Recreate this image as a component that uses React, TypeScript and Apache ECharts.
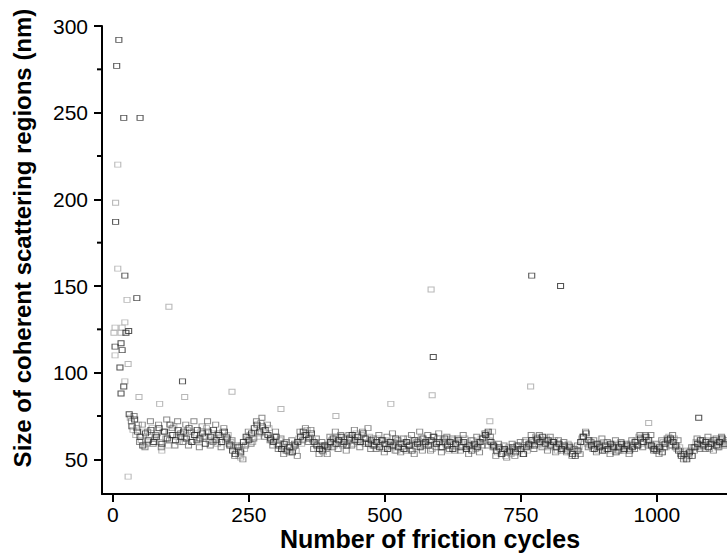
import React, { useEffect, useRef } from "react";
import * as echarts from "echarts";

// Regular sampling of the dense band: three interleaved measurement sets, every 5 cycles
const darkStart = 30;
const lightStart = 32;
const midStart = 34;
const step = 5;

const darkValues: number[] = [
  76, 69, 73, 66, 63, 58, 65, 61, 67, 60,
  63, 68, 59, 66, 62, 70, 64, 61, 67, 63,
  66, 62, 68, 60, 64, 67, 62, 65, 59, 66,
  63, 67, 61, 64, 60, 66, 62, 58, 55, 53,
  57, 54, 60, 63, 61, 65, 68, 70, 66, 69,
  67, 64, 62, 60, 63, 58, 56, 59, 55, 57,
  54, 58, 60, 63, 66, 64, 62, 65, 60, 58,
  56, 55, 58, 57, 60, 62, 59, 61, 63, 60,
  58, 62, 64, 61, 63, 60, 65, 62, 59, 61,
  58, 60, 57, 61, 59, 56, 60, 58, 62, 57,
  59, 56, 60, 58, 55, 61, 59, 57, 62, 60,
  58, 61, 63, 59, 60, 57, 62, 58, 60, 56,
  59, 61, 57, 60, 56, 58, 55, 59, 57, 60,
  62, 64, 66, 60, 58, 55, 57, 53, 56, 54,
  55, 57, 54, 58, 56, 53, 57, 59, 61, 58,
  62, 60, 63, 59, 61, 58, 60, 57, 59, 56,
  58, 55, 57, 53, 52, 55, 60, 63, 65, 61,
  58, 56, 59, 57, 55, 58, 56, 59, 57, 54,
  57, 59, 56, 58, 55, 57, 60, 58, 62, 60,
  63, 61, 58, 56, 55, 57, 54, 59, 61, 62,
  60, 58, 55, 52, 53, 50, 54, 52, 57, 59,
  61, 58, 60, 57, 59, 61, 58, 60, 62, 59,
];

const lightValues: number[] = [
  74, 67, 64, 70, 61, 66, 59, 63, 68, 62,
  65, 60, 66, 62, 58, 64, 69, 63, 60, 65,
  62, 67, 63, 60, 65, 61, 66, 63, 68, 61,
  65, 62, 59, 63, 66, 61, 64, 60, 57, 55,
  52, 58, 56, 62, 64, 60, 66, 63, 71, 67,
  65, 68, 61, 63, 59, 61, 57, 55, 58, 54,
  57, 55, 62, 59, 64, 67, 63, 61, 59, 56,
  58, 54, 56, 59, 61, 58, 63, 60, 58, 62,
  60, 63, 59, 65, 61, 64, 62, 60, 63, 58,
  60, 62, 58, 56, 61, 59, 57, 60, 55, 59,
  57, 60, 62, 56, 59, 57, 61, 63, 58, 61,
  60, 56, 59, 62, 57, 61, 59, 55, 58, 61,
  57, 60, 58, 62, 59, 57, 61, 56, 58, 62,
  60, 63, 61, 59, 57, 54, 56, 55, 52, 57,
  53, 56, 58, 55, 57, 60, 55, 58, 60, 63,
  59, 61, 58, 62, 57, 59, 61, 55, 58, 57,
  56, 59, 54, 56, 55, 57, 62, 60, 59, 58,
  56, 59, 55, 58, 60, 56, 58, 55, 57, 59,
  55, 58, 57, 56, 59, 58, 61, 63, 59, 62,
  60, 59, 57, 55, 58, 56, 60, 57, 63, 58,
  62, 56, 57, 54, 51, 53, 55, 57, 60, 58,
  57, 59, 61, 56, 60, 58, 57, 61, 59, 60,
];

const midValues: number[] = [
  72, 75, 68, 60, 70, 57, 66, 72, 59, 64,
  70, 57, 66, 73, 61, 68, 58, 72, 65, 60,
  70, 58, 66, 72, 61, 57, 69, 63, 72, 58,
  60, 70, 65, 57, 68, 63, 59, 61, 52, 58,
  55, 50, 58, 66, 59, 62, 72, 65, 74, 63,
  70, 61, 58, 66, 56, 62, 53, 60, 54, 61,
  59, 52, 66, 61, 68, 60, 67, 56, 62, 53,
  60, 58, 53, 63, 57, 66, 56, 64, 59, 55,
  64, 58, 67, 60, 57, 66, 59, 68, 56, 62,
  56, 64, 61, 54, 63, 58, 65, 55, 61, 54,
  62, 55, 58, 64, 53, 60, 66, 55, 59, 64,
  55, 63, 57, 65, 54, 60, 63, 56, 62, 55,
  62, 55, 64, 57, 53, 61, 58, 63, 54, 58,
  65, 58, 63, 57, 52, 59, 53, 58, 51, 55,
  59, 52, 56, 60, 53, 61, 58, 64, 56, 61,
  64, 57, 61, 55, 63, 60, 54, 61, 55, 60,
  54, 58, 52, 56, 58, 53, 63, 66, 57, 60,
  61, 54, 58, 62, 55, 60, 53, 58, 61, 55,
  60, 55, 59, 53, 61, 56, 58, 64, 57, 64,
  58, 64, 55, 59, 53, 61, 57, 62, 58, 64,
  57, 61, 53, 50, 55, 52, 57, 55, 62, 56,
  61, 56, 63, 59, 55, 62, 57, 63, 58, 61,
];

// Early scattered points and outliers: [cycle, size]
const darkExtra: number[][] = [
  [11, 292], [7, 277], [20, 247], [50, 247], [5, 187], [22, 156], [44, 143],
  [4, 115], [15, 117], [29, 124], [20, 92], [15, 88], [13, 103], [17, 113],
  [24, 123], [128, 95], [589, 109], [770, 156], [823, 150], [1077, 74],
];
const lightExtra: number[][] = [
  [9, 220], [5, 198], [9, 160], [26, 142], [103, 138], [4, 126], [22, 129],
  [17, 126], [2, 123], [15, 123], [28, 105], [22, 95], [48, 86], [132, 86],
  [86, 82], [219, 89], [28, 40], [90, 55], [235, 51], [585, 148], [587, 87],
  [768, 92], [511, 82], [309, 79], [410, 75], [693, 72], [985, 71], [686, 65],
  [698, 66], [4, 110],
];

const xTicks = [0, 250, 500, 750, 1000];
const yMajor = [50, 100, 150, 200, 250, 300];
const yMinor = [75, 125, 175, 225, 275];

const xTitle = "Number of friction cycles";
const yTitle = "Size of coherent scattering regions (nm)";

const FONT = "'Liberation Sans', Arial, Helvetica, sans-serif";

const X_MIN = -20;
const X_MAX = 1129;
const Y_MIN = 30;
const Y_MAX = 300;

export default function App() {
  const ref = useRef<HTMLDivElement>(null);

  useEffect(() => {
    document.body.style.margin = "0";
    if (!ref.current) return;
    const chart = echarts.init(ref.current, undefined, { renderer: "svg" });

    const darkData = darkValues.map((v, i) => [darkStart + i * step, v]).concat(darkExtra);
    const lightData = lightValues.map((v, i) => [lightStart + i * step, v]).concat(lightExtra);
    const midData = midValues.map((v, i) => [midStart + i * step, v]);

    const axisLineStyle = { color: "#000", width: 2 };
    const fmt = (v: number) => String(v);

    const marker = (color: string) => ({
      type: "scatter",
      symbol: "rect",
      symbolSize: [6, 5],
      itemStyle: { color: "rgba(255,255,255,0)", borderColor: color, borderWidth: 1 },
    });

    const titles = [
      {
        id: "xTitle",
        type: "text",
        x: 430,
        y: 539,
        style: {
          text: xTitle,
          font: `bold 25px ${FONT}`,
          fill: "#000",
          align: "center",
          verticalAlign: "middle",
        },
      },
      {
        id: "yTitle",
        type: "text",
        x: 22,
        y: 238,
        rotation: Math.PI / 2,
        style: {
          text: yTitle,
          font: `bold 24px ${FONT}`,
          fill: "#000",
          align: "center",
          verticalAlign: "middle",
        },
      },
    ];

    chart.setOption({
      animation: false,
      backgroundColor: "#fff",
      grid: { left: 102, right: 0, top: 26, bottom: 64, containLabel: false },
      xAxis: {
        type: "value",
        min: X_MIN,
        max: X_MAX,
        axisLine: { show: true, onZero: false, lineStyle: axisLineStyle },
        axisTick: { show: true, length: 8, lineStyle: axisLineStyle, customValues: xTicks },
        axisLabel: {
          customValues: xTicks,
          formatter: fmt,
          fontSize: 21,
          fontFamily: FONT,
          color: "#000",
          margin: 10,
        },
        splitLine: { show: false },
      },
      yAxis: {
        type: "value",
        min: Y_MIN,
        max: Y_MAX,
        axisLine: { show: true, onZero: false, lineStyle: axisLineStyle },
        axisTick: { show: true, length: 8, lineStyle: axisLineStyle, customValues: yMajor },
        axisLabel: {
          customValues: yMajor,
          formatter: fmt,
          fontSize: 21,
          fontFamily: FONT,
          color: "#000",
          margin: 14,
        },
        splitLine: { show: false },
      },
      graphic: titles,
      series: [
        { ...marker("#a6a6a6"), name: "light", data: lightData },
        { ...marker("#6e6e6e"), name: "mid", data: midData },
        { ...marker("#2a2a2a"), name: "dark", data: darkData },
      ],
    });

    // minor ticks on the left axis, positioned through the axis scale
    const minorTicks = yMinor.map((v, i) => {
      const p = chart.convertToPixel({ xAxisIndex: 0, yAxisIndex: 0 }, [X_MIN, v]) as number[];
      return {
        id: `minor${i}`,
        type: "line",
        shape: { x1: p[0] - 5, y1: p[1], x2: p[0], y2: p[1] },
        style: { stroke: "#000", lineWidth: 2 },
      };
    });
    chart.setOption({ graphic: [...titles, ...minorTicks] });

    return () => chart.dispose();
  }, []);

  return <div ref={ref} style={{ width: 727, height: 558 }} />;
}
